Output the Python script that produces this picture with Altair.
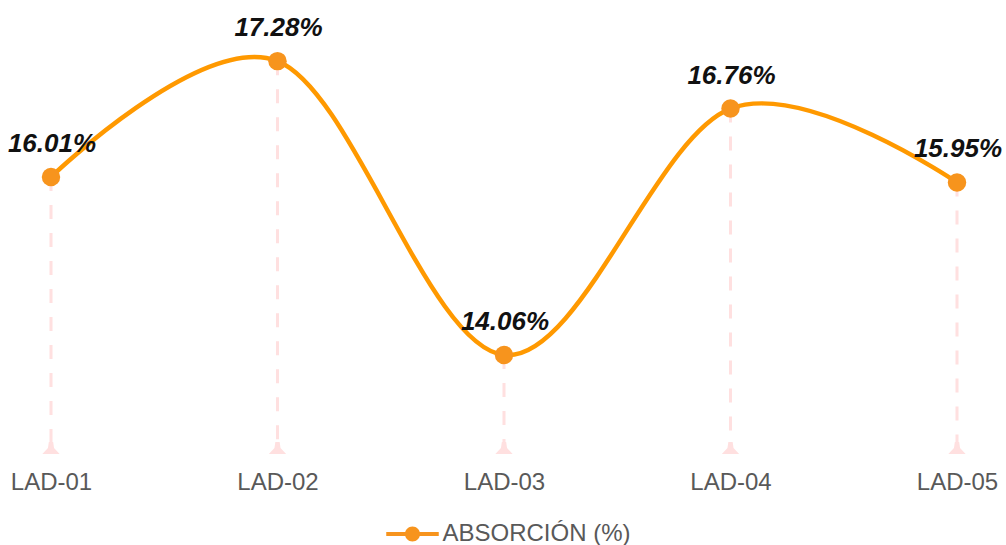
import altair as alt
import pandas as pd

# Absorption per sample
samples = ["LAD-01", "LAD-02", "LAD-03", "LAD-04", "LAD-05"]
absorption = [16.01, 17.28, 14.06, 16.76, 15.95]
series_name = "ABSORCIÓN (%)"

y_min, y_max = 13.04, 17.95

df = pd.DataFrame({
    "sample": samples,
    "value": absorption,
    "base": [y_min] * len(samples),
    "label": [f"{v:.2f}%" for v in absorption],
    "series": [series_name] * len(samples),
})

LINE = "#FF9900"
POINT = "#F7941D"
DROP = "#FFE0E0"
TEXT_GRAY = "#595959"

x_enc = alt.X(
    "sample:N",
    sort=samples,
    scale=alt.Scale(type="point", padding=0),
    axis=alt.Axis(
        title=None, domain=False, ticks=False, grid=False,
        labelFont="Liberation Sans", labelFontSize=24, labelColor=TEXT_GRAY,
        labelPadding=22, labelAngle=0,
    ),
)
y_scale = alt.Scale(domain=[y_min, y_max], nice=False, zero=False)
y_enc = alt.Y("value:Q", scale=y_scale, axis=None)

base = alt.Chart(df).encode(x=x_enc)

# dashed drop lines from each point to the baseline
drops = base.mark_rule(
    color=DROP, strokeWidth=3, strokeDash=[14, 14]
).encode(y=y_enc, y2="base:Q")

# small flared foot at the bottom of each drop line
foot_shape = "M-0.25,-0.7 L0.25,-0.7 L0.35,0 L1,0.7 L-1,0.7 L-0.35,0 Z"
feet = base.mark_point(
    shape=foot_shape, filled=True, color=DROP, opacity=1, size=300, strokeWidth=0
).encode(y=alt.Y("base:Q", scale=y_scale, axis=None))

line = base.mark_line(
    color=LINE, strokeWidth=4.5, interpolate="cardinal"
).encode(y=y_enc)

legend_symbol = (
    "M-3.5,-0.28 H3.5 V0.28 H-3.5 Z "
    "M1,0 A1,1 0 1,1 -1,0 A1,1 0 1,1 1,0 Z"
)
points = base.mark_point(
    filled=True, size=340, opacity=1, strokeWidth=0
).encode(
    y=y_enc,
    color=alt.Color(
        "series:N",
        scale=alt.Scale(range=[POINT]),
        legend=alt.Legend(
            title=None, orient="none", legendX=349.5, legendY=522,
            symbolType=legend_symbol, symbolSize=225, symbolStrokeWidth=0,
            symbolOpacity=1, labelOffset=18, labelLimit=400,
            labelFont="Liberation Sans", labelFontSize=24, labelColor=TEXT_GRAY,
        ),
    ),
)

labels = base.mark_text(
    font="Liberation Sans", fontSize=26, fontWeight="bold", fontStyle="italic",
    color="#111111", baseline="alphabetic", align="center", dy=-25, dx=1,
).encode(y=y_enc, text="label:N")

chart = (
    alt.layer(drops, feet, line, points, labels)
    .properties(
        width=906, height=448,
        autosize=alt.AutoSizeParams(type="none"),
        padding={"left": 51, "right": 49, "top": 0, "bottom": 97},
        background="white",
    )
    .configure_view(stroke=None)
)

chart.save("out.html", embed_options={"renderer": "svg", "actions": False})
